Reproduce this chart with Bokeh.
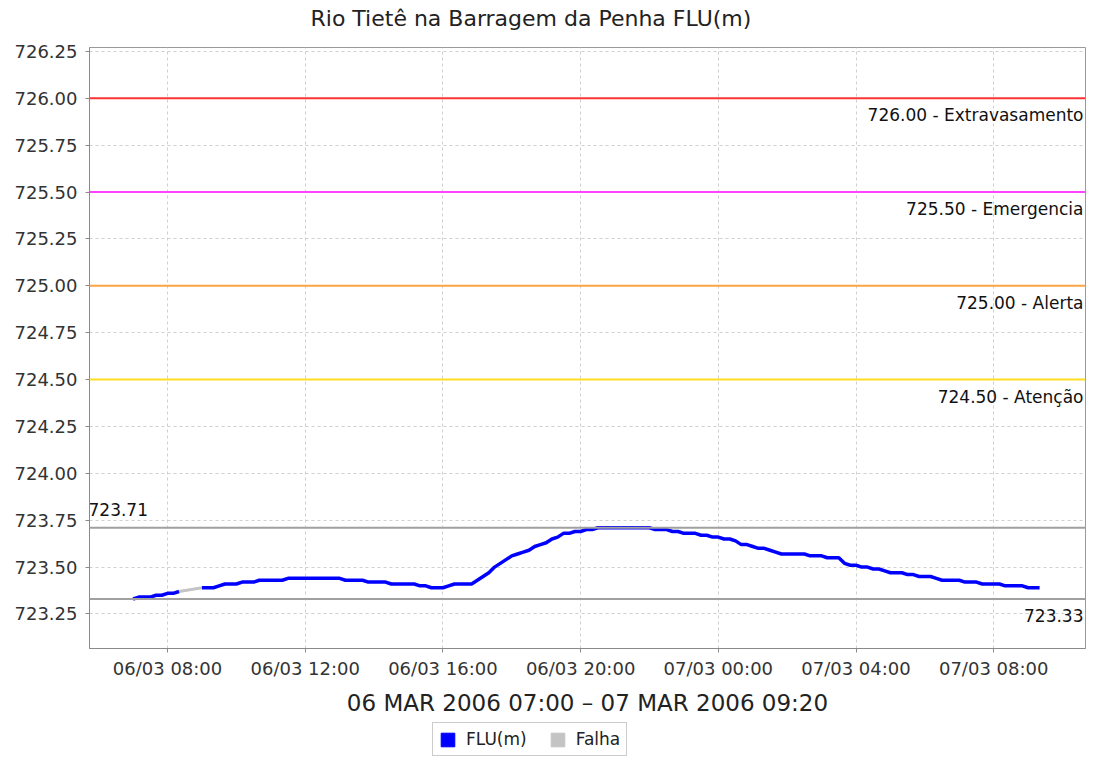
import pandas as pd
from bokeh.plotting import figure
from bokeh.layouts import column
from bokeh.models import (Range1d, FixedTicker, NumeralTickFormatter, DatetimeTickFormatter,
                          Span, Legend, LegendItem, ColumnDataSource)
from bokeh.core.properties import value
from bokeh.embed import file_html
from bokeh.resources import INLINE

FONT = "DejaVu Sans"

title_text = "Rio Tietê na Barragem da Penha FLU(m)"
period_text = "06 MAR 2006 07:00 – 07 MAR 2006 09:20"
series_name = "FLU(m)"
falha_name = "Falha"

start_time = "2006-03-06 07:00"
step = "10min"
# FLU(m) every 10 minutes, 06/03 07:00 .. 07/03 09:20 (None = falha)
flu = [
    723.33, 723.34, 723.34, 723.34, 723.35, 723.35,   # 07h
    723.36, 723.36, 723.37, None, None, None,         # 08h
    723.39, 723.39, 723.39, 723.40, 723.41, 723.41,   # 09h
    723.41, 723.42, 723.42, 723.42, 723.43, 723.43,   # 10h
    723.43, 723.43, 723.43, 723.44, 723.44, 723.44,   # 11h
    723.44, 723.44, 723.44, 723.44, 723.44, 723.44,   # 12h
    723.44, 723.43, 723.43, 723.43, 723.43, 723.42,   # 13h
    723.42, 723.42, 723.42, 723.41, 723.41, 723.41,   # 14h
    723.41, 723.41, 723.40, 723.40, 723.39, 723.39,   # 15h
    723.39, 723.40, 723.41, 723.41, 723.41, 723.41,   # 16h
    723.43, 723.45, 723.47, 723.50, 723.52, 723.54,   # 17h
    723.56, 723.57, 723.58, 723.59, 723.61, 723.62,   # 18h
    723.63, 723.65, 723.66, 723.68, 723.68, 723.69,   # 19h
    723.69, 723.70, 723.70, 723.71, 723.71, 723.71,   # 20h
    723.71, 723.71, 723.71, 723.71, 723.71, 723.71,   # 21h
    723.71, 723.70, 723.70, 723.70, 723.69, 723.69,   # 22h
    723.68, 723.68, 723.68, 723.67, 723.67, 723.66,   # 23h
    723.66, 723.65, 723.65, 723.64, 723.62, 723.62,   # 00h
    723.61, 723.60, 723.60, 723.59, 723.58, 723.57,   # 01h
    723.57, 723.57, 723.57, 723.57, 723.56, 723.56,   # 02h
    723.56, 723.55, 723.55, 723.55, 723.52, 723.51,   # 03h
    723.51, 723.50, 723.50, 723.49, 723.49, 723.48,   # 04h
    723.47, 723.47, 723.47, 723.46, 723.46, 723.45,   # 05h
    723.45, 723.45, 723.44, 723.43, 723.43, 723.43,   # 06h
    723.43, 723.42, 723.42, 723.42, 723.41, 723.41,   # 07h
    723.41, 723.41, 723.40, 723.40, 723.40, 723.40,   # 08h
    723.39, 723.39, 723.39,                           # 09h
]
falha_times = ["2006-03-06 08:20", "2006-03-06 09:00"]
falha_values = [723.37, 723.39]

threshold_values = [726.00, 725.50, 725.00, 724.50]
threshold_names = ["Extravasamento", "Emergencia", "Alerta", "Atenção"]
threshold_colors = ["#ff3333", "#ff44ff", "#ffa347", "#ffdd22"]

y_ticks = [723.25, 723.50, 723.75, 724.00, 724.25, 724.50, 724.75,
           725.00, 725.25, 725.50, 725.75, 726.00, 726.25]
x_ticks = ["2006-03-06 08:00", "2006-03-06 12:00", "2006-03-06 16:00", "2006-03-06 20:00",
           "2006-03-07 00:00", "2006-03-07 04:00", "2006-03-07 08:00"]
x_start, x_end = "2006-03-06 05:44", "2006-03-07 10:40"
y_start, y_end = 723.066, 726.271

# ---------------------------------------------------------------
times = pd.date_range(start_time, periods=len(flu), freq=step)
flu_vals = [float("nan") if v is None else v for v in flu]
valid = [v for v in flu if v is not None]
vmax, vmin = max(valid), min(valid)

def ts(s):
    return pd.Timestamp(s).to_pydatetime()

def ms(s):
    return pd.Timestamp(s).value // 10**6

W = 1086
BL, BR = 89, 1
FRAME_W = W - BL - BR

def strip(height):
    f = figure(width=W, height=height, output_backend="svg", toolbar_location=None,
               x_range=Range1d(0, FRAME_W), y_range=Range1d(0, height),
               min_border_left=BL, min_border_right=BR, min_border_top=0, min_border_bottom=0)
    f.axis.visible = False
    f.grid.visible = False
    f.outline_line_color = None
    f.background_fill_color = "white"
    f.border_fill_color = "white"
    return f

# title strip
tf = strip(30)
tf.text(x=[221], y=[12], text=[title_text], text_align="left", text_baseline="middle",
        text_font=value(FONT), text_font_size="22px", text_color="#222222")

# main chart
p = figure(width=W, height=690, x_axis_type="datetime",
           output_backend="svg", toolbar_location=None,
           x_range=Range1d(ts(x_start), ts(x_end)),
           y_range=Range1d(y_start, y_end),
           min_border_left=BL, min_border_right=BR, min_border_top=17, min_border_bottom=72)

p.background_fill_color = "white"
p.border_fill_color = "white"
p.outline_line_color = "#9a9a9a"
p.outline_line_width = 1

# axes
for ax in (p.xaxis[0], p.yaxis[0]):
    ax.axis_line_color = "#8a8a8a"
    ax.major_tick_line_color = "#8a8a8a"
    ax.major_tick_out = 4
    ax.major_tick_in = 0
    ax.minor_tick_line_color = None
    ax.major_label_text_font = FONT
    ax.major_label_text_color = "#333333"

p.yaxis.ticker = FixedTicker(ticks=y_ticks)
p.yaxis.formatter = NumeralTickFormatter(format="0.00")
p.yaxis.major_label_text_font_size = "18px"
p.yaxis.major_label_standoff = 8

p.xaxis.ticker = FixedTicker(ticks=[ms(t) for t in x_ticks])
fmt = "%d/%m %H:%M"
p.xaxis.formatter = DatetimeTickFormatter(minutes=fmt, hourmin=fmt, hours=fmt, days=fmt,
                                          months=fmt, years=fmt, context=None)
p.xaxis.major_label_text_font_size = "18px"
p.xaxis.major_label_standoff = 5
p.xaxis.axis_label = period_text
p.xaxis.axis_label_text_font = FONT
p.xaxis.axis_label_text_font_size = "23px"
p.xaxis.axis_label_text_font_style = "normal"
p.xaxis.axis_label_text_color = "#222222"
p.xaxis.axis_label_standoff = 8

# grid
for g in (p.xgrid[0], p.ygrid[0]):
    g.grid_line_color = "#cfcfcf"
    g.grid_line_dash = "3 3"
    g.grid_line_width = 1

# threshold lines + labels
for v, c in zip(threshold_values, threshold_colors):
    p.add_layout(Span(location=v, dimension="width", line_color=c, line_width=2))

thr_src = ColumnDataSource(dict(
    x=[ts(x_end)] * len(threshold_values),
    y=threshold_values,
    text=[f"{v:.2f} - {n}" for v, n in zip(threshold_values, threshold_names)],
))
p.text(x="x", y="y", text="text", source=thr_src, text_align="right", text_baseline="middle",
       x_offset=-2, y_offset=17, text_font=value(FONT), text_font_size="17px", text_color="#111111")

# max / min lines
p.add_layout(Span(location=vmax, dimension="width", line_color="#a0a0a0", line_width=2))
p.add_layout(Span(location=vmin, dimension="width", line_color="#a0a0a0", line_width=2))
p.text(x=[ts(x_start)], y=[vmax], text=[f"{vmax:.2f}"], text_align="left", text_baseline="middle",
       x_offset=-1, y_offset=-18, text_font=value(FONT), text_font_size="17px", text_color="#111111")
p.text(x=[ts(x_end)], y=[vmin], text=[f"{vmin:.2f}"], text_align="right", text_baseline="middle",
       x_offset=-2, y_offset=17, text_font=value(FONT), text_font_size="17px", text_color="#111111")

# data
p.line(x=[ts(t) for t in falha_times], y=falha_values, line_color="#c4c4c4", line_width=3)
p.line(x=times, y=flu_vals, line_color="#0000ff", line_width=3.5)

# legend strip
lf = strip(36)
nan = float("nan")
r_flu = lf.quad(left=[nan], right=[nan], top=[nan], bottom=[nan],
                fill_color="#0000ff", line_color="#0000ff")
r_falha = lf.quad(left=[nan], right=[nan], top=[nan], bottom=[nan],
                  fill_color="#c4c4c4", line_color="#c4c4c4")
legend = Legend(items=[LegendItem(label=series_name, renderers=[r_flu]),
                       LegendItem(label=falha_name, renderers=[r_falha])],
                orientation="horizontal", location=(343, 0),
                border_line_color="#9a9a9a", border_line_width=1,
                padding=6, spacing=22, margin=0,
                glyph_width=17, glyph_height=17, label_height=17, label_standoff=10,
                label_text_font=FONT, label_text_font_size="17px", label_text_color="#222222",
                background_fill_color="white", background_fill_alpha=1)
lf.add_layout(legend)

layout = column(tf, p, lf, spacing=0)
open("out.html", "w").write(file_html(layout, INLINE))
